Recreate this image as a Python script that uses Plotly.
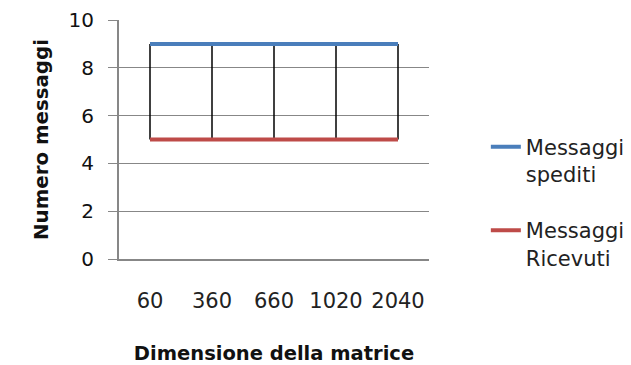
import plotly.graph_objects as go

categories = ["60", "360", "660", "1020", "2040"]
spediti = [9, 9, 9, 9, 9]
ricevuti = [5, 5, 5, 5, 5]
y_ticks = [0, 2, 4, 6, 8, 10]

FONT = "DejaVu Sans"
GRID = "#878787"

# high-low lines built from the data
hl_x, hl_y = [], []
for c, a, b in zip(categories, spediti, ricevuti):
    hl_x += [c, c, None]
    hl_y += [a, b, None]

fig = go.Figure()
fig.add_trace(go.Scatter(x=hl_x, y=hl_y, mode="lines",
                         line=dict(color="black", width=1.5),
                         showlegend=False, hoverinfo="skip"))
fig.add_trace(go.Scatter(x=categories, y=spediti, mode="lines",
                         name="Messaggi<br>spediti", legendgroup="a",
                         line=dict(color="#4A7EBB", width=4)))
fig.add_trace(go.Scatter(x=categories, y=ricevuti, mode="lines",
                         name="Messaggi<br>Ricevuti", legendgroup="b",
                         line=dict(color="#BE4B48", width=4)))

fig.update_layout(
    width=623, height=357,
    margin=dict(l=111, r=202, t=12, b=106, autoexpand=False),
    paper_bgcolor="white", plot_bgcolor="white",
    font=dict(family=FONT, size=20, color="#000000"),
    showlegend=True,
    legend=dict(xref="container", yref="container",
                x=0.767, y=0.668, xanchor="left", yanchor="top",
                valign="top", tracegroupgap=26, traceorder="grouped",
                font=dict(family=FONT, size=21, color="#222222"),
                bgcolor="rgba(0,0,0,0)"),
    xaxis=dict(type="category", categoryorder="array", categoryarray=categories,
               range=[-0.5, 4.5], showgrid=False, zeroline=False,
               showline=True, linecolor=GRID, linewidth=1.5,
               ticks="", ticklabelstandoff=22, automargin=False,
               tickfont=dict(size=21, color="#222222"),
               title=dict(text="<b>Dimensione della matrice</b>", standoff=34,
                          font=dict(size=19.5, color="#111111"))),
    yaxis=dict(range=[0, 10], tickvals=y_ticks, showgrid=True,
               gridcolor=GRID, gridwidth=1, zeroline=False,
               showline=True, linecolor=GRID, linewidth=2,
               ticks="outside", ticklen=9, tickcolor=GRID,
               ticklabelstandoff=10, ticklabeloverflow="allow",
               automargin=False,
               tickfont=dict(size=20, color="#111111"),
               title=dict(text="<b>Numero messaggi</b>", standoff=15,
                          font=dict(size=19.8, color="#111111"))),
)
fig.write_html("out.html")
